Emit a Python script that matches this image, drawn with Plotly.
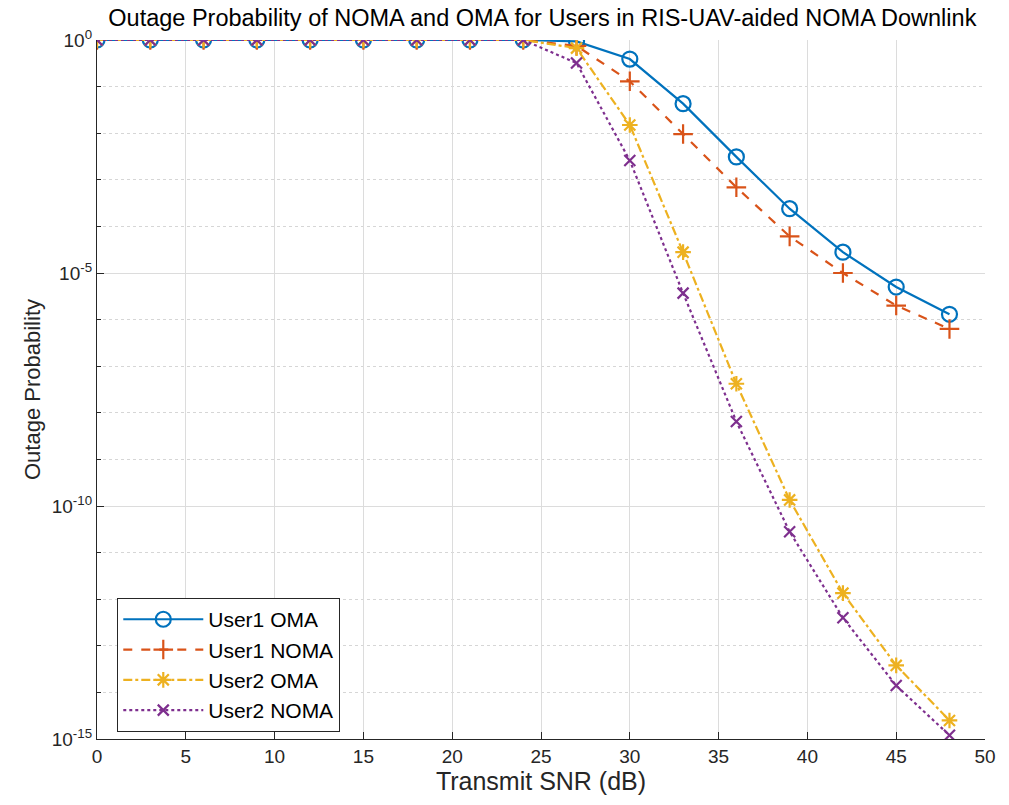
import plotly.graph_objects as go

snr = [0, 3, 6, 9, 12, 15, 18, 21, 24, 27, 30, 33, 36, 39, 42, 45, 48]

user1_oma = [1, 1, 1, 1, 1, 1, 1, 1, 1, 0.93, 0.39, 4.3e-2, 3.1e-3, 2.4e-4, 2.8e-5, 5.0e-6, 1.3e-6]
user1_noma = [1, 1, 1, 1, 1, 1, 1, 1, 1, 0.75, 0.13, 9.6e-3, 6.9e-4, 6.1e-5, 1.0e-5, 2.0e-6, 6.3e-7]
user2_oma = [1, 1, 1, 1, 1, 1, 1, 1, 1, 0.67, 1.5e-2, 2.8e-5, 4.2e-8, 1.35e-10, 1.35e-12, 3.8e-14, 2.5e-15]
user2_noma = [1, 1, 1, 1, 1, 1, 1, 1, 1, 0.32, 2.6e-3, 3.7e-6, 6.5e-9, 2.8e-11, 4.0e-13, 1.4e-14, 1.2e-15]

series_names = ["User1 OMA", "User1 NOMA", "User2 OMA", "User2 NOMA"]
x_ticks = [0, 5, 10, 15, 20, 25, 30, 35, 40, 45, 50]
y_major = [1e0, 1e-5, 1e-10, 1e-15]
y_major_text = ["10<sup>0</sup>", "10<sup>-5</sup>", "10<sup>-10</sup>", "10<sup>-15</sup>"]
y_minor = [10.0 ** (-k) for k in range(1, 15) if k % 5 != 0]

FONT = "Liberation Sans, Arial, Helvetica, sans-serif"
styles = [
    dict(color="#0072BD", dash="solid", symbol="circle-open", size=15),
    dict(color="#D95319", dash="dash", symbol="cross-thin-open", size=14),
    dict(color="#EDB120", dash="dashdot", symbol="asterisk-open", size=13),
    dict(color="#7E2F8E", dash="dot", symbol="x-thin-open", size=11),
]

fig = go.Figure()
for name, ys, st in zip(series_names, [user1_oma, user1_noma, user2_oma, user2_noma], styles):
    fig.add_trace(go.Scatter(
        x=snr, y=ys, name=name, mode="lines+markers",
        line=dict(color=st["color"], width=2.2, dash=st["dash"]),
        marker=dict(symbol=st["symbol"], size=st["size"], color=st["color"],
                    line=dict(color=st["color"], width=2.2)),
    ))

grid_c = "#dcdcdc"
fig.update_layout(
    width=1009, height=805,
    paper_bgcolor="white", plot_bgcolor="white",
    margin=dict(l=97, r=24, t=40, b=66),
    font=dict(family=FONT, color="#262626", size=18),
    title=dict(text="Outage Probability of NOMA and OMA for Users in RIS-UAV-aided NOMA Downlink",
               x=0.5375, xanchor="center", y=0.978, yanchor="middle",
               font=dict(size=23.5, color="#000000", family=FONT)),
    showlegend=True,
    legend=dict(x=0.0225, y=0.202, xanchor="left", yanchor="top",
                bgcolor="white", bordercolor="#262626", borderwidth=1.3,
                font=dict(size=21, color="#000000"), tracegroupgap=0,
                itemwidth=80),
    xaxis=dict(
        range=[0, 50], tickvals=x_ticks, showgrid=True, gridcolor=grid_c, gridwidth=1,
        zeroline=False, showline=True, linecolor="#262626", linewidth=1.3,
        ticks="inside", ticklen=7, tickcolor="#262626",
        title=dict(text="Transmit SNR (dB)", font=dict(size=25), standoff=4),
        tickfont=dict(size=19), mirror=False,
    ),
    yaxis=dict(
        type="log", range=[-15, 0], tickvals=y_major, ticktext=y_major_text,
        showgrid=True, gridcolor=grid_c, gridwidth=1,
        zeroline=False, showline=True, linecolor="#262626", linewidth=1.3,
        ticks="inside", ticklen=7, tickcolor="#262626",
        minor=dict(tickvals=y_minor, showgrid=True, gridcolor="#d6d6d6", griddash="dot",
                   ticks="inside", ticklen=4, tickcolor="#262626"),
        title=dict(text="Outage Probability", font=dict(size=22), standoff=4),
        tickfont=dict(size=19),
    ),
)

fig.write_html("out.html")
